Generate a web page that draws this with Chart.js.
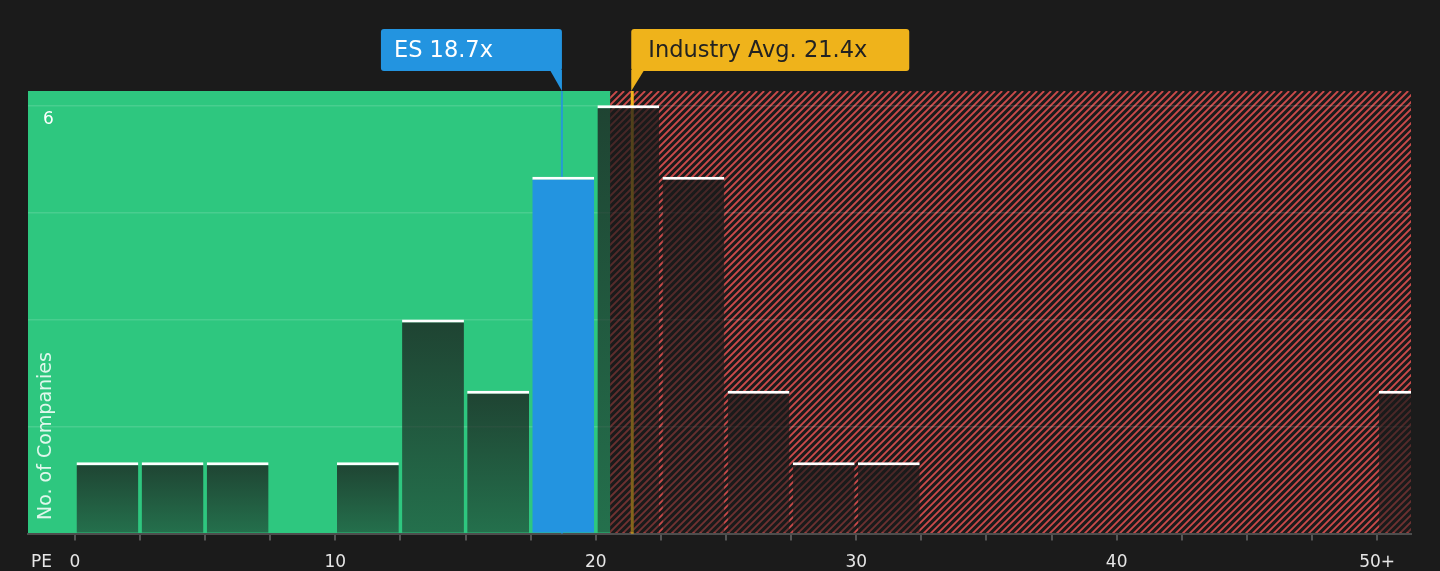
<!DOCTYPE html>
<html>
<head>
<meta charset="utf-8">
<title>PE distribution</title>
<script src="https://cdn.jsdelivr.net/npm/chart.js@4.4.1/dist/chart.umd.min.js"></script>
<style>
  html, body { margin: 0; padding: 0; background: #1b1b1b; }
  #wrap { width: 1440px; height: 571px; position: relative; }
</style>
</head>
<body>
<div id="wrap"><canvas id="chart"></canvas></div>
<script>
// histogram bins (PE ratio, bin start) and number of companies in each
const binStarts = [0, 2.5, 5, 7.5, 10, 12.5, 15, 17.5, 20, 22.5, 25, 27.5, 30, 50];
const companyCounts = [1, 1, 1, 0, 1, 3, 2, 5, 6, 5, 2, 1, 1, 2];
const binWidth = 2.5;

const xTickValues = [0, 2.5, 5, 7.5, 10, 12.5, 15, 17.5, 20, 22.5, 25, 27.5, 30, 32.5, 35, 37.5, 40, 42.5, 45, 47.5, 50];
const xLabelValues = [0, 10, 20, 30, 40, 50];
const xLabelTexts = ['0', '10', '20', '30', '40', '50+'];
const yTickValues = [0, 1.5, 3, 4.5, 6];
const yLabelValues = [6];

const companyPE = 18.7;
const companyName = 'ES';
const industryPE = 21.4;
const fairLimit = 20.55;

const GREEN = '#2ec77f';
const BLUE = '#2394e0';
const GOLD = '#efb31b';
const HATCH = '#c94a4a';
const BG = '#1b1b1b';
const FONT = '"DejaVu Sans", Verdana, sans-serif';

let barData = [];
binStarts.forEach((start, i) => {
    if (companyCounts[i] > 0) {
        barData.push({x: start + binWidth / 2, y: companyCounts[i], start: start});
    }
});

function isCompanyBin(point){
    return companyPE >= point.start && companyPE < point.start + binWidth;
}

function barFill(ctx){
    if (ctx.type !== 'data') return 'rgba(26,26,26,0.6)';
    let point = ctx.raw;
    if (isCompanyBin(point)) return BLUE;
    let yScale = ctx.chart.scales.y;
    if (!yScale) return 'rgba(26,26,26,0.6)';
    let top = yScale.getPixelForValue(point.y);
    let base = yScale.getPixelForValue(0);
    if (!isFinite(top) || !isFinite(base) || top === base) return 'rgba(26,26,26,0.6)';
    let g = ctx.chart.ctx.createLinearGradient(0, top, 0, base);
    g.addColorStop(0, 'rgba(26,26,26,0.76)');
    g.addColorStop(1, 'rgba(26,26,26,0.5)');
    return g;
}

const regionPlugin = {
    id: 'regions',
    beforeDraw: (chart) => {
        const {ctx, chartArea, scales} = chart;
        ctx.save();
        ctx.fillStyle = BG;
        ctx.fillRect(0, 0, chart.width, chart.height);

        let split = scales.x.getPixelForValue(fairLimit);
        let top = chartArea.top, bottom = chartArea.bottom;
        ctx.fillStyle = GREEN;
        ctx.fillRect(chartArea.left, top, split - chartArea.left, bottom - top);

        // hatched "overvalued" region
        ctx.beginPath();
        ctx.rect(split, top, chartArea.right - split, bottom - top);
        ctx.clip();
        ctx.strokeStyle = HATCH;
        ctx.lineWidth = 1.9;
        let h = bottom - top;
        ctx.beginPath();
        for (let x = split - h; x < chartArea.right + 7; x += 7) {
            ctx.moveTo(x, bottom);
            ctx.lineTo(x + h, top);
        }
        ctx.stroke();
        ctx.restore();
    },
    beforeDatasetsDraw: (chart) => {
        const {ctx, chartArea, scales} = chart;
        ctx.save();
        let xi = scales.x.getPixelForValue(industryPE);
        ctx.strokeStyle = GOLD;
        ctx.lineWidth = 3;
        ctx.beginPath();
        ctx.moveTo(xi, chartArea.top);
        ctx.lineTo(xi, chartArea.bottom);
        ctx.stroke();

        let xc = scales.x.getPixelForValue(companyPE);
        ctx.strokeStyle = 'rgba(35,148,224,0.85)';
        ctx.lineWidth = 2;
        ctx.beginPath();
        ctx.moveTo(xc, chartArea.top);
        ctx.lineTo(xc, chartArea.bottom);
        ctx.stroke();
        ctx.restore();
    },
    afterDraw: (chart) => {
        const {ctx, chartArea, scales} = chart;
        ctx.save();
        let boxTop = 29, boxBottom = 71;

        // company label
        let xc = scales.x.getPixelForValue(companyPE);
        ctx.fillStyle = BLUE;
        ctx.beginPath();
        ctx.roundRect(xc - 181, boxTop, 181, boxBottom - boxTop, 3);
        ctx.fill();
        ctx.beginPath();
        ctx.moveTo(xc - 12, boxBottom - 1);
        ctx.lineTo(xc, boxBottom - 1);
        ctx.lineTo(xc, chartArea.top);
        ctx.closePath();
        ctx.fill();
        ctx.fillStyle = '#ffffff';
        ctx.font = '22.5px ' + FONT;
        ctx.textBaseline = 'middle';
        ctx.textAlign = 'left';
        ctx.fillText(companyName + ' ' + companyPE.toFixed(1) + 'x', xc - 168, 51);

        // industry label
        let xi = scales.x.getPixelForValue(industryPE);
        ctx.fillStyle = GOLD;
        ctx.beginPath();
        ctx.roundRect(xi - 1, boxTop, 278, boxBottom - boxTop, 3);
        ctx.fill();
        ctx.beginPath();
        ctx.moveTo(xi - 1, boxBottom - 1);
        ctx.lineTo(xi + 12, boxBottom - 1);
        ctx.lineTo(xi - 1, chartArea.top);
        ctx.closePath();
        ctx.fill();
        ctx.fillStyle = '#222222';
        ctx.fillText('Industry Avg. ' + industryPE.toFixed(1) + 'x', xi + 16, 51);

        // axis captions
        ctx.fillStyle = '#e6e6e6';
        ctx.font = '17px ' + FONT;
        ctx.fillText('PE', 31, 563);

        ctx.translate(56, 520);
        ctx.rotate(-Math.PI / 2);
        ctx.fillStyle = 'rgba(255,255,255,0.85)';
        ctx.font = '19px ' + FONT;
        ctx.textBaseline = 'bottom';
        ctx.fillText('No. of Companies', 0, 0);
        ctx.restore();
    }
};

Chart.defaults.font.family = FONT;

let chart = new Chart(document.getElementById('chart'), {
    type: 'bar',
    data: {
        datasets: [{
            data: barData,
            backgroundColor: barFill,
            borderColor: '#ffffff',
            borderWidth: {top: 3, left: 0, right: 0, bottom: 0},
            borderSkipped: 'start',
            barPercentage: 0.95,
            categoryPercentage: 1
        }]
    },
    options: {
        responsive: true,
        maintainAspectRatio: false,
        animation: false,
        layout: {
            padding: {left: 28, right: 29, top: 91, bottom: -14}
        },
        scales: {
            x: {
                type: 'linear',
                offset: false,
                min: -1.8,
                max: 51.3,
                afterBuildTicks: (scale) => {
                    scale.ticks = xTickValues.map(v => ({value: v}));
                },
                grid: {
                    offset: false,
                    drawOnChartArea: false,
                    drawTicks: true,
                    tickLength: 7,
                    color: '#555555',
                    lineWidth: 2
                },
                border: {color: '#4d4d4d', width: 2},
                ticks: {
                    autoSkip: false,
                    maxRotation: 0,
                    padding: 12,
                    color: '#e6e6e6',
                    font: {size: 17},
                    callback: (v) => {
                        let i = xLabelValues.indexOf(v);
                        return i >= 0 ? xLabelTexts[i] : '';
                    }
                }
            },
            y: {
                min: 0,
                max: 6.2,
                afterBuildTicks: (scale) => {
                    scale.ticks = yTickValues.map(v => ({value: v}));
                },
                afterFit: (scale) => {
                    scale.width = 0;
                },
                grid: {
                    drawTicks: false,
                    color: (c) => c.tick && c.tick.value === 0 ? 'rgba(0,0,0,0)' : 'rgba(255,255,255,0.13)',
                    lineWidth: 1.5
                },
                border: {display: false},
                ticks: {
                    mirror: true,
                    padding: 15,
                    labelOffset: 14,
                    color: '#ffffff',
                    font: {size: 17},
                    callback: (v) => yLabelValues.indexOf(v) >= 0 ? String(v) : ''
                }
            }
        },
        plugins: {
            legend: {display: false},
            tooltip: {enabled: false}
        }
    },
    plugins: [regionPlugin]
});
</script>
</body>
</html>
